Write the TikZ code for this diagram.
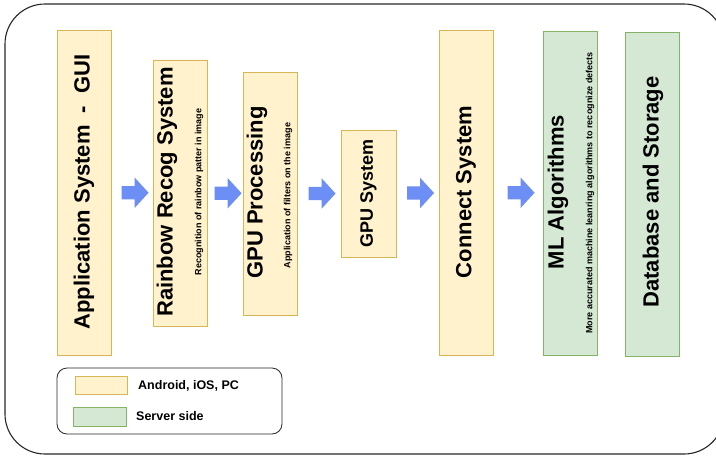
\documentclass[tikz,border=0pt]{standalone}
\usepackage{fontspec}
\setmainfont{Liberation Sans}
\usetikzlibrary{shapes.arrows,calc}
\definecolor{devfill}{HTML}{FFF2CC}
\definecolor{devline}{HTML}{D6B656}
\definecolor{srvfill}{HTML}{D5E8D4}
\definecolor{srvline}{HTML}{82B366}
\definecolor{flowblue}{RGB}{108,142,245}
\begin{document}
\begin{tikzpicture}[x=1pt, y=-1pt, font=\bfseries]
	\tikzstyle{block} = [rectangle,minimum width=54pt,line width=0.8pt,inner sep=0pt]
	\tikzstyle{dev} = [block,draw=devline,fill=devfill]
	\tikzstyle{srv} = [block,draw=srvline,fill=srvfill]
	\tikzstyle{title} = [rotate=90,inner sep=0pt,font=\fontsize{22}{24}\selectfont\bfseries]
	\tikzstyle{sub} = [rotate=90,inner sep=0pt,font=\fontsize{9}{10}\selectfont\bfseries]
	\tikzstyle{flow} = [single arrow,fill=flowblue,minimum height=27pt,inner xsep=0pt,inner ysep=6.5pt,single arrow head extend=8.5pt,single arrow tip angle=95]
	\tikzstyle{key} = [anchor=west,inner sep=0pt,font=\fontsize{12.5}{14}\selectfont\bfseries]
	\useasboundingbox (0,0) rectangle (716,456);
	\clip (0,0) rectangle (716,456);
	\draw[line width=1.1pt,draw=black!85,rounded corners=40pt] (5,4) rectangle (724,454);
	\node[dev,minimum height=325pt](app)at(84,192.5){};
	\node[dev,minimum height=266pt](rainbow)at(180,193){};
	\node[dev,minimum height=243pt](gpuproc)at(270,193.5){};
	\node[dev,minimum width=55pt,minimum height=127pt](gpusys)at(368.5,193.5){};
	\node[dev,minimum height=325pt](connect)at(466,192.5){};
	\node[srv,minimum height=324pt](ml)at(570,193){};
	\node[srv,minimum height=324pt](db)at(652,194){};
	\node[title](app-t)at(84,192){Application System\ \ -\ \ GUI};
	\node[title](rainbow-t)at($(rainbow.center)+(-13,-1)$){Rainbow Recog System};
	\node[sub](rainbow-s)at($(rainbow.center)+(19,-1)$){Recognition of rainbow patter in image};
	\node[title](gpuproc-t)at($(gpuproc.center)+(-13,-1)$){GPU Processing};
	\node[sub](gpuproc-s)at($(gpuproc.center)+(18,2)$){Application of filters on the image};
	\node[title,font=\fontsize{18}{20}\selectfont\bfseries](gpusys-t)at($(gpusys.center)+(0,0)$){GPU System};
	\node[title](connect-t)at(466,192){Connect System};
	\node[title](ml-t)at($(ml.center)+(-12,-1)$){ML Algorithms};
	\node[sub](ml-s)at($(ml.center)+(20,0)$){More accurated machine leanring algorithms to recognize defects};
	\node[title](db-t)at($(db.center)+(1,-2)$){Database and Storage};
	\node[flow](f1)at($(app.east)!0.5!(rainbow.west)$){};
	\node[flow](f2)at($(rainbow.east)!0.5!(gpuproc.west)$){};
	\node[flow](f3)at($(gpuproc.east)!0.5!(gpusys.west)$){};
	\node[flow](f4)at($(gpusys.east)!0.5!(connect.west)$){};
	\node[flow](f5)at($(connect.east)!0.5!(ml.west)$){};
	\node[draw=black!85,line width=0.8pt,rounded corners=10pt,minimum width=225pt,minimum height=66pt](legend)at(169.5,401){};
	\node[dev,minimum width=52pt,minimum height=18pt](devkey)at(101,385){};
	\node[srv,minimum width=53pt,minimum height=19pt](srvkey)at(99.5,416.5){};
	\node[key](devtext)at(138,386){Android, iOS, PC};
	\node[key](srvtext)at(136,416){Server side};
\end{tikzpicture}
\end{document}
